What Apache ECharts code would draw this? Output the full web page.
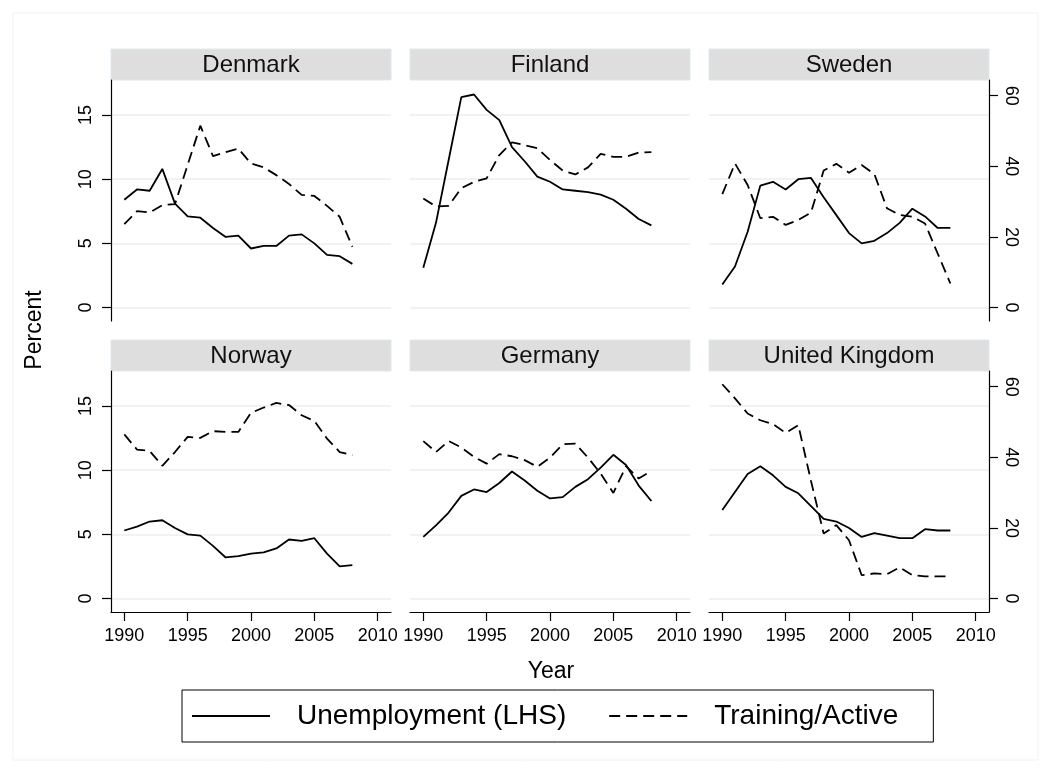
<!DOCTYPE html>
<html>
<head>
<meta charset="utf-8">
<script src="https://cdn.jsdelivr.net/npm/echarts@6/dist/echarts.min.js"></script>
<style>
  html, body { margin: 0; padding: 0; background: #fff; }
  #chart { width: 1051px; height: 773px; }
</style>
</head>
<body>
<div id="chart"></div>
<script>
// years on the x axis
const years = [1990, 1991, 1992, 1993, 1994, 1995, 1996, 1997, 1998, 1999,
  2000, 2001, 2002, 2003, 2004, 2005, 2006, 2007, 2008];
const xTicks = [1990, 1995, 2000, 2005, 2010];
const leftTicks = [0, 5, 10, 15];
const rightTicks = [0, 20, 40, 60];
const countries = ['Denmark', 'Finland', 'Sweden', 'Norway', 'Germany', 'United Kingdom'];

// unemployment, percent (left axis)
const unempDenmark = [8.4, 9.2, 9.1, 10.8, 8.1, 7.1, 7.0, 6.2, 5.5, 5.6, 4.6, 4.8, 4.8, 5.6, 5.7, 5.0, 4.1, 4.0, 3.4];
const unempFinland = [3.1, 6.6, 11.5, 16.4, 16.6, 15.4, 14.6, 12.5, 11.4, 10.2, 9.8, 9.2, 9.1, 9.0, 8.8, 8.4, 7.7, 6.9, 6.4];
const unempSweden = [1.8, 3.2, 5.9, 9.5, 9.8, 9.2, 10.0, 10.1, 8.6, 7.2, 5.8, 5.0, 5.2, 5.8, 6.6, 7.7, 7.1, 6.2, 6.2];
const unempNorway = [5.3, 5.6, 6.0, 6.1, 5.5, 5.0, 4.9, 4.1, 3.2, 3.3, 3.5, 3.6, 3.9, 4.6, 4.5, 4.7, 3.5, 2.5, 2.6];
const unempGermany = [4.8, 5.7, 6.7, 8.0, 8.5, 8.3, 9.0, 9.9, 9.2, 8.4, 7.8, 7.9, 8.7, 9.3, 10.2, 11.2, 10.4, 8.8, 7.6];
const unempUK = [6.9, 8.3, 9.7, 10.3, 9.6, 8.7, 8.2, 7.2, 6.2, 6.0, 5.5, 4.8, 5.1, 4.9, 4.7, 4.7, 5.4, 5.3, 5.3];

// training share of active spending (right axis)
const trainDenmark = [23.6, 27.3, 26.9, 29.0, 29.3, 40.4, 51.5, 42.9, 44.0, 45.0, 40.8, 39.7, 37.5, 35.0, 31.9, 31.6, 28.8, 25.7, 17.2];
const trainFinland = [30.9, 28.6, 28.8, 33.8, 35.6, 36.6, 43.2, 46.8, 46.0, 45.1, 41.8, 38.8, 37.7, 39.7, 43.5, 42.7, 42.7, 43.9, 44.0];
const trainSweden = [32.1, 40.8, 34.7, 25.3, 25.7, 23.4, 24.8, 26.9, 38.8, 40.7, 38.2, 40.4, 37.8, 28.1, 26.2, 25.7, 23.8, 15.3, 6.8];
const trainNorway = [46.5, 42.2, 41.8, 37.6, 41.5, 45.8, 45.5, 47.4, 47.2, 47.2, 52.6, 54.1, 55.4, 54.8, 51.9, 50.3, 45.3, 41.5, 40.6];
const trainGermany = [44.6, 41.5, 44.6, 42.8, 40.1, 38.2, 40.9, 40.3, 39.2, 37.3, 39.9, 43.7, 43.9, 39.9, 35.4, 29.9, 37.5, 34.0, 36.1];
const trainUK = [60.7, 56.7, 52.4, 50.5, 49.4, 46.9, 49.1, 33.3, 18.4, 20.8, 16.5, 6.6, 7.1, 6.9, 8.8, 6.6, 6.3, 6.3, 6.3];

const unempSets = [unempDenmark, unempFinland, unempSweden, unempNorway, unempGermany, unempUK];
const trainSets = [trainDenmark, trainFinland, trainSweden, trainNorway, trainGermany, trainUK];

const FONT = '"Liberation Sans", Arial, Helvetica, sans-serif';
const colLeft = [111, 410, 709];
const rowTop = [80, 371];
const panelW = 280;
const panelH = 241;
const stripH = 31;
const plain = v => String(v);

const grids = [];
const xAxes = [];
const yAxes = [];
const series = [];
const graphics = [];

graphics.push({
  type: 'rect', shape: { x: 13, y: 13, width: 1025, height: 747 },
  style: { fill: '#fff', stroke: '#eef2f4', lineWidth: 1 }, z: -10
});

countries.forEach((name, i) => {
  const col = i % 3;
  const row = Math.floor(i / 3);
  const left = colLeft[col];
  const top = rowTop[row];
  grids.push({ left: left, top: top, width: panelW, height: panelH });

  // strip header
  graphics.push({
    type: 'rect', shape: { x: left, y: top - stripH, width: panelW, height: stripH },
    style: { fill: '#dedede', stroke: '#dde9ee', lineWidth: 1 }
  });
  graphics.push({
    type: 'text', x: left + panelW / 2, y: top - stripH / 2 + 1,
    style: { text: name, font: '24px ' + FONT, fill: '#111', align: 'center', verticalAlign: 'middle' }
  });

  const bottomRow = row === 1;
  xAxes.push({
    gridIndex: i, type: 'value', min: 1988.95, max: 2011.05,
    axisLine: { show: bottomRow, onZero: false, lineStyle: { color: '#000', width: 1.2 } },
    axisTick: { show: bottomRow, length: 9, customValues: xTicks, lineStyle: { color: '#000', width: 1.2 } },
    axisLabel: { show: bottomRow, customValues: xTicks, formatter: plain, margin: 15, color: '#000', fontSize: 18, fontFamily: FONT },
    splitLine: { show: false }
  });

  yAxes.push({
    gridIndex: i, type: 'value', position: 'left', min: -1.05, max: 17.73,
    axisLine: { show: col === 0, lineStyle: { color: '#000', width: 1.2 } },
    axisTick: { show: col === 0, length: 9, customValues: leftTicks, lineStyle: { color: '#000', width: 1.2 } },
    axisLabel: { show: col === 0, customValues: leftTicks, formatter: plain, rotate: 90, margin: 16, color: '#000', fontSize: 18, fontFamily: FONT },
    splitLine: { show: true, lineStyle: { color: '#e8eff2', width: 1.5 } }
  });
  yAxes.push({
    gridIndex: i, type: 'value', position: 'right', min: -3.82, max: 64.45,
    axisLine: { show: col === 2, lineStyle: { color: '#000', width: 1.2 } },
    axisTick: { show: col === 2, length: 9, customValues: rightTicks, lineStyle: { color: '#000', width: 1.2 } },
    axisLabel: { show: col === 2, customValues: rightTicks, formatter: plain, rotate: -90, margin: 13, color: '#000', fontSize: 18, fontFamily: FONT },
    splitLine: { show: false }
  });

  series.push({
    name: 'Unemployment (LHS)', type: 'line', xAxisIndex: i, yAxisIndex: i * 2,
    data: years.map((y, k) => [y, unempSets[i][k]]),
    symbol: 'none', lineStyle: { color: '#000', width: 1.8 }, itemStyle: { color: '#000' }
  });
  series.push({
    name: 'Training/Active', type: 'line', xAxisIndex: i, yAxisIndex: i * 2 + 1,
    data: years.map((y, k) => [y, trainSets[i][k]]),
    symbol: 'none', lineStyle: { color: '#000', width: 1.8, type: [11, 6] }, itemStyle: { color: '#000' }
  });
});

// axis titles
graphics.push({
  type: 'text', x: 551, y: 672,
  style: { text: 'Year', font: '23px ' + FONT, fill: '#000', align: 'center', verticalAlign: 'middle' }
});
graphics.push({
  type: 'text', x: 35, y: 330, rotation: Math.PI / 2,
  style: { text: 'Percent', font: '23px ' + FONT, fill: '#000', align: 'center', verticalAlign: 'middle' }
});

const chart = echarts.init(document.getElementById('chart'), null, { renderer: 'canvas' });
chart.setOption({
  animation: false,
  backgroundColor: '#fff',
  grid: grids,
  xAxis: xAxes,
  yAxis: yAxes,
  series: series,
  graphic: graphics,
  legend: {
    data: ['Unemployment (LHS)', 'Training/Active'],
    left: 182, top: 690,
    itemWidth: 78, itemHeight: 14, itemGap: 42,
    itemStyle: { opacity: 0 },
    borderColor: '#000', borderWidth: 1, padding: [12, 35, 12, 9],
    textStyle: { color: '#000', fontSize: 28, fontFamily: FONT, padding: [0, 0, 0, 22] },
    selectedMode: false
  }
});
</script>
</body>
</html>
